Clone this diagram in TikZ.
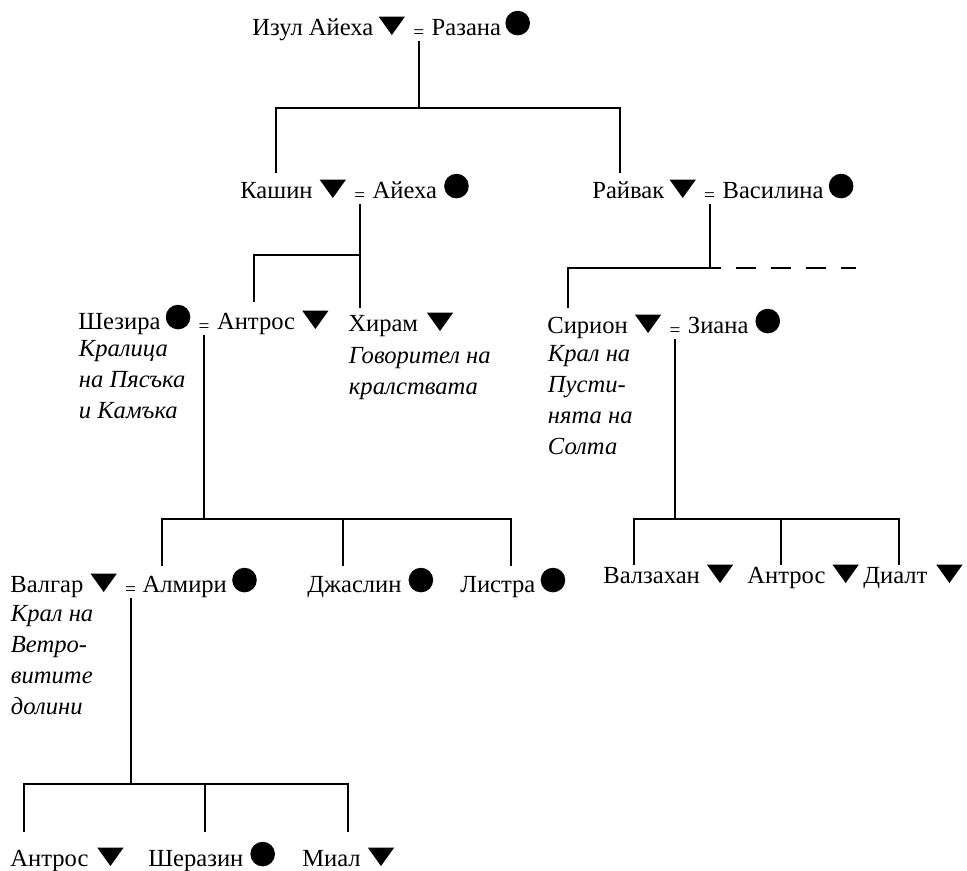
\documentclass[tikz,border=0pt]{standalone}
\usepackage{fontspec}
\setmainfont{Liberation Serif}
\usetikzlibrary{positioning,calc}

\newcommand{\malesym}{\tikz[baseline=0pt]\fill (0pt,10.5pt) -- (15pt,10.5pt) -- (7.5pt,0pt) -- cycle;}
\newcommand{\femsym}{\tikz[baseline=0pt]\fill (7pt,6.8pt) circle (7pt);}
\newcommand{\wedsym}{\raisebox{-2pt}{=}}

\begin{document}
\begin{tikzpicture}[
  x=0.02cm, y=-0.02cm,
  person/.style={inner sep=0pt, anchor=base west, font=\fontsize{14}{16}\selectfont},
  wed/.style={inner sep=0pt, text depth=3pt, font=\fontsize{11}{12}\selectfont},
  note/.style={inner sep=0pt, anchor=north west, align=left, font=\fontsize{14}{17.8}\selectfont\itshape},
  dashline/.style={dash pattern=on 0.4cm off 0.3cm, dash phase=0.18cm},
  line width=1.1pt
]
\useasboundingbox (0,0) rectangle (967,870);

% first generation
\node[person] (izul) at (252,35) {Изул Айеха\hspace{3pt}\malesym};
\node[wed, base right=4pt of izul] (w0) {\wedsym};
\node[person, base right=3.5pt of w0] (razana) {Разана\hspace{2.5pt}\femsym};

% second generation
\node[person] (kashin) at (240,198) {Кашин\hspace{4pt}\malesym};
\node[wed, base right=4pt of kashin] (w1) {\wedsym};
\node[person, base right=3.5pt of w1] (ayexa) {Айеха\hspace{4pt}\femsym};
\node[person] (rayvak) at (592,198) {Райвак\hspace{3pt}\malesym};
\node[wed, base right=4pt of rayvak] (w2) {\wedsym};
\node[person, base right=3.5pt of w2] (vasilina) {Василина\hspace{3pt}\femsym};

% third generation
\node[person] (shezira) at (78,329) {Шезира\hspace{3pt}\femsym};
\node[wed, base right=4pt of shezira] (w3) {\wedsym};
\node[person, base right=3.5pt of w3] (antros) {Антрос\hspace{4pt}\malesym};
\node[note] (sheziraT) at (78,339) {Кралица\\на Пясъка\\и Камъка};
\node[person] (hiram) at (348,331) {Хирам\hspace{5pt}\malesym};
\node[note] (hiramT) at (348,346) {Говорител на\\кралствата};
\node[person] (sirion) at (547,333) {Сирион\hspace{4pt}\malesym};
\node[wed, base right=4pt of sirion] (w4) {\wedsym};
\node[person, base right=3.5pt of w4] (ziana) {Зиана\hspace{4pt}\femsym};
\node[note] (sirionT) at (547,344) {Крал на\\Пусти-\\нята на\\Солта};

% fourth generation
\node[person] (valgar) at (10,592) {Валгар\hspace{4pt}\malesym};
\node[wed, base right=4pt of valgar] (w5) {\wedsym};
\node[person, base right=3pt of w5] (almiri) {Алмири\hspace{3pt}\femsym};
\node[note] (valgarT) at (10,604) {Крал на\\Ветро-\\витите\\долини};
\node[person] (jaslin) at (307,592) {Джаслин\hspace{4pt}\femsym};
\node[person] (listra) at (460,592) {Листра\hspace{3pt}\femsym};
\node[person] (valzahan) at (603,583) {Валзахан\hspace{4pt}\malesym};
\node[person] (antrosB) at (747,583) {Антрос\hspace{4pt}\malesym};
\node[person] (dialt) at (863,583) {Диалт\hspace{5pt}\malesym};

% fifth generation
\node[person] (antrosC) at (10,866) {Антрос\hspace{5pt}\malesym};
\node[person] (sherazin) at (148,866) {Шеразин\hspace{4pt}\femsym};
\node[person] (mial) at (302,866) {Миал\hspace{4pt}\malesym};

% lines of descent
\draw (w0.south) -- ++(0,67) coordinate (f0);
\draw (f0) -| ($(kashin.base west)+(36,-25)$);
\draw (f0) -| ($(rayvak.base west)+(28,-25)$);

\draw (w1.south) -- ++(0,51) coordinate (f1) -- ($(f1 |- hiram.base)+(0,-23)$);
\draw (f1) -| ($(antros.base west)+(37,-27)$);

\draw (w2.south) -- ++(0,64) coordinate (f2);
\draw (f2) -| ($(sirion.base west)+(21,-25)$);
\draw[dashline] (f2) -- ++(146,0);

\draw (w3.south) -- ++(0,184) coordinate (f3);
\draw (f3) -| ($(almiri.base west)+(20,-26)$);
\draw (f3) -| ($(listra.base west)+(51,-26)$);
\draw ($(jaslin.base west)+(36,-26)$) |- (f3);

\draw (w4.south) -- ++(0,180) coordinate (f4);
\draw (f4) -| ($(valzahan.base west)+(31,-18)$);
\draw (f4) -| ($(dialt.base west)+(36,-18)$);
\draw ($(antrosB.base west)+(34,-18)$) |- (f4);

\draw (w5.south) -- ++(0,186) coordinate (f5);
\draw (f5) -| ($(antrosC.base west)+(14,-34)$);
\draw (f5) -| ($(mial.base west)+(46,-34)$);
\draw ($(sherazin.base west)+(57,-34)$) |- (f5);
\end{tikzpicture}
\end{document}
